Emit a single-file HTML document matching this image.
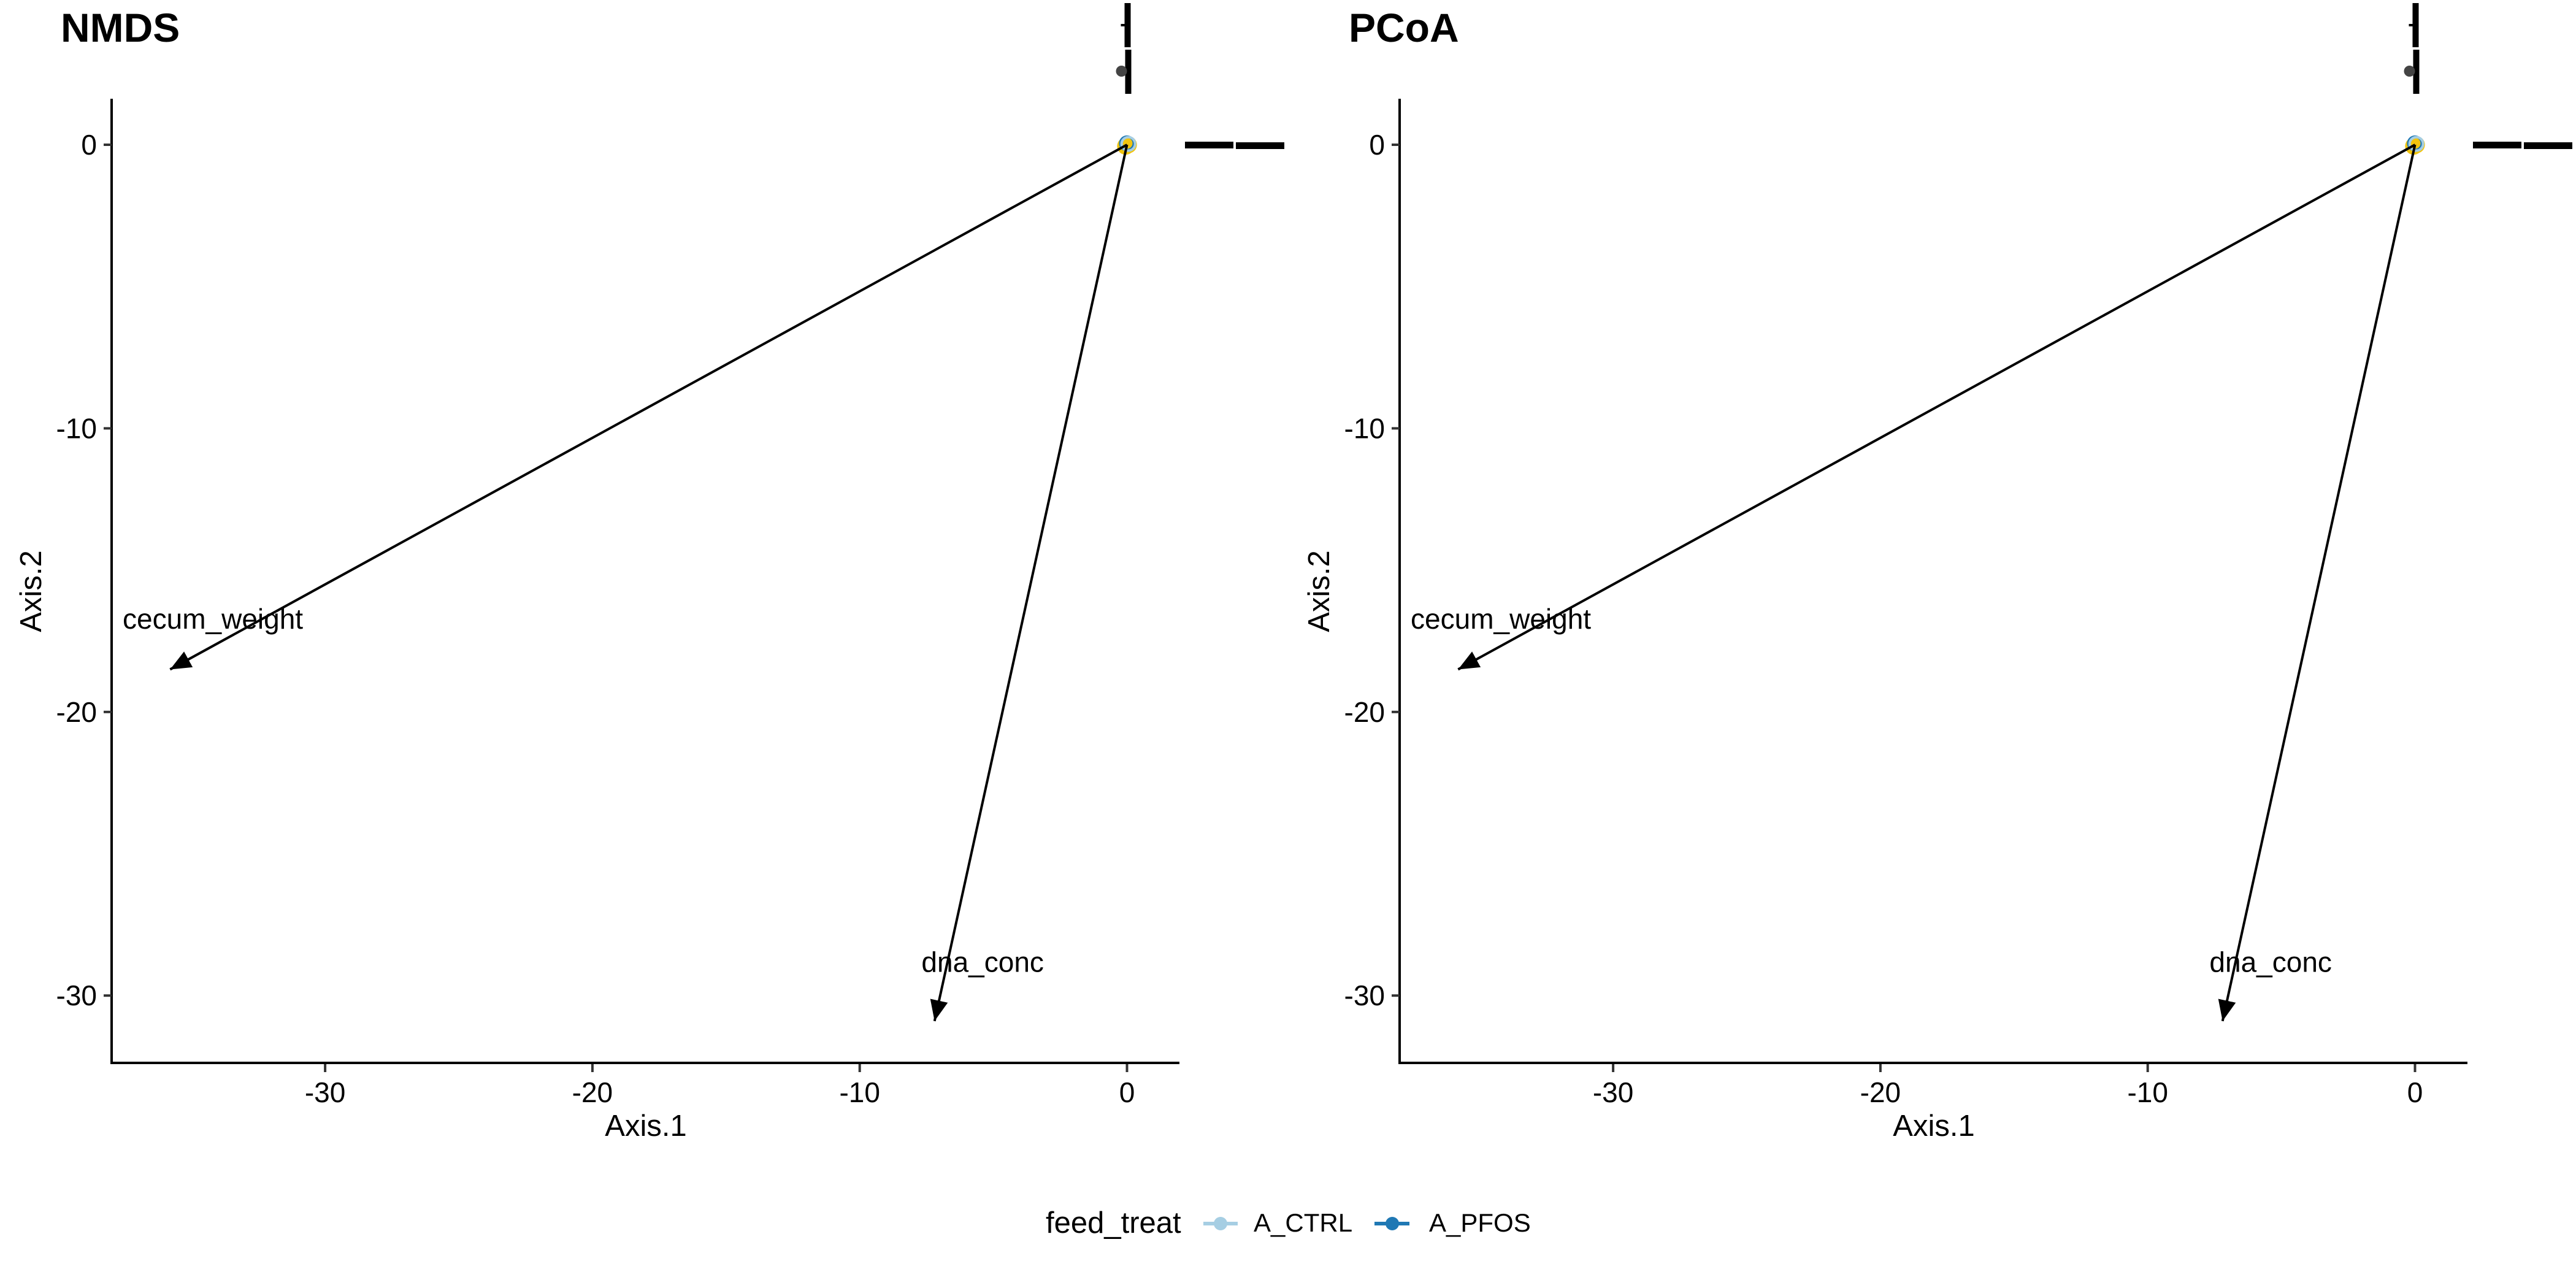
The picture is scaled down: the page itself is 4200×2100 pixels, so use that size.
<!DOCTYPE html>
<html><head><meta charset="utf-8">
<style>
html,body{margin:0;padding:0;background:#fff;}
svg{display:block;font-family:"Liberation Sans",Arial,sans-serif;}
</style></head>
<body>
<svg id="chart" width="4200" height="2100" viewBox="0 0 4200 2100" xmlns="http://www.w3.org/2000/svg">
<defs>
<marker id="ah" viewBox="0 0 10 10" refX="10" refY="5" markerWidth="34" markerHeight="34" markerUnits="userSpaceOnUse" orient="auto">
<path d="M0,0.7 L10,5 L0,9.3 z" fill="#000"/>
</marker>
</defs>
<g>
<text x="1705" y="2010" font-size="49">feed_treat</text>
<g>
<line x1="1962" y1="1995" x2="2018" y2="1995" stroke="#A6CEE3" stroke-width="6"/>
<circle cx="1990" cy="1995" r="11" fill="#A6CEE3"/>
<text x="2044" y="2008" font-size="42">A_CTRL</text>
</g>
<g>
<line x1="2241" y1="1995" x2="2298" y2="1995" stroke="#1F78B4" stroke-width="6"/>
<circle cx="2270" cy="1995" r="11" fill="#1F78B4"/>
<text x="2330" y="2008" font-size="42">A_PFOS</text>
</g>
</g>
</svg>
<script>
const panelTitles = ["NMDS", "PCoA"];
const xTicks = [-30, -20, -10, 0];
const yTicks = [0, -10, -20, -30];
const vectorNames = ["cecum_weight", "dna_conc"];
const vectorX = [-35.8, -7.2];
const vectorY = [-18.5, -30.9];
const labelX = [-34.2, -5.4];
const labelY = [-16.8, -28.9];
const pointX = [0.05, -0.05, 0.0, 0.05];
const pointY = [0.0, -0.05, 0.05, 0.03];
const pointGroup = ["yellow", "yellow", "A_PFOS", "A_CTRL"];

const NS = "http://www.w3.org/2000/svg";
const svg = document.getElementById("chart");
function mk(tag, attrs, parent) {
  const e = document.createElementNS(NS, tag);
  for (const k in attrs) e.setAttribute(k, attrs[k]);
  parent.appendChild(e);
  return e;
}
const colorOf = {"A_CTRL": "#A6CEE3", "A_PFOS": "#1F78B4", "yellow": "#F1C40F"};

panelTitles.forEach((title, p) => {
  const off = p * 2100;
  const sx = v => off + 1837.5 + v * 43.58;
  const sy = v => 236 - v * 46.24;
  const g = mk("g", {}, svg);
  
  

  const t = mk("text", {x: off + 99, y: 68, "font-size": 66, "font-weight": "bold"}, g);
  t.textContent = title;
  
  

  const ya = mk("line", {x1: off + 182, y1: 161, x2: off + 182, y2: 1735, stroke: "#000", "stroke-width": 4}, g);
  
  
  const xa = mk("line", {x1: off + 180, y1: 1733, x2: off + 1923, y2: 1733, stroke: "#000", "stroke-width": 4}, g);
  
  

  xTicks.forEach(v => {
    const tk = mk("line", {x1: sx(v), y1: 1735, x2: sx(v), y2: 1748, stroke: "#333", "stroke-width": 4}, g);
    
    
    const tl = mk("text", {x: sx(v), y: 1797, "font-size": 46, "text-anchor": "middle", fill: "#000"}, g);
    tl.textContent = v;
    
    
  });
  yTicks.forEach(v => {
    const tk = mk("line", {x1: off + 169, y1: sy(v), x2: off + 182, y2: sy(v), stroke: "#333", "stroke-width": 4}, g);
    
    
    const tl = mk("text", {x: off + 158, y: sy(v) + 16, "font-size": 46, "text-anchor": "end", fill: "#000"}, g);
    tl.textContent = v;
    
    
  });

  const xt = mk("text", {x: off + 1053, y: 1852, "font-size": 49, "text-anchor": "middle"}, g);
  xt.textContent = "Axis.1";
  
  
  const yt = mk("text", {x: off + 67, y: 964, "font-size": 49, "text-anchor": "middle", transform: "rotate(-90 " + (off + 67) + " 964)"}, g);
  yt.textContent = "Axis.2";
  
  

  pointX.forEach((v, i) => {
    const c = colorOf[pointGroup[i]];
    const isY = pointGroup[i] === "yellow";
    const pt = mk("circle", {cx: sx(v), cy: sy(pointY[i]), r: isY ? 14 : 11, fill: isY ? c : "none", stroke: c, "stroke-width": isY ? 0 : 4}, g);
    
    
  });

  vectorNames.forEach((n, i) => {
    const ar = mk("line", {x1: sx(0), y1: sy(0), x2: sx(vectorX[i]), y2: sy(vectorY[i]), stroke: "#000", "stroke-width": 4, "marker-end": "url(#ah)"}, g);
    
    
    const lb = mk("text", {x: sx(labelX[i]), y: sy(labelY[i]) + 12, "font-size": 46, "text-anchor": "middle"}, g);
    lb.textContent = n;
    
    
  });

  const bx = sx(0);
  const tb1 = mk("rect", {x: bx - 4, y: 5, width: 10, height: 72, fill: "#000"}, g);
  
  
  const wk = mk("line", {x1: bx - 10, y1: 41, x2: bx + 6, y2: 41, stroke: "#000", "stroke-width": 4}, g);
  
  
  const tb2 = mk("rect", {x: bx - 3, y: 81, width: 10, height: 72, fill: "#000"}, g);
  
  
  const ol = mk("circle", {cx: bx - 9, cy: 116, r: 9, fill: "#444"}, g);
  
  

  const rb1 = mk("rect", {x: off + 1932, y: sy(0) - 5, width: 79, height: 11, fill: "#000"}, g);
  
  
  const rb2 = mk("rect", {x: off + 2015, y: sy(0) - 4, width: 79, height: 11, fill: "#000"}, g);
  
  
});
</script>
</body></html>
